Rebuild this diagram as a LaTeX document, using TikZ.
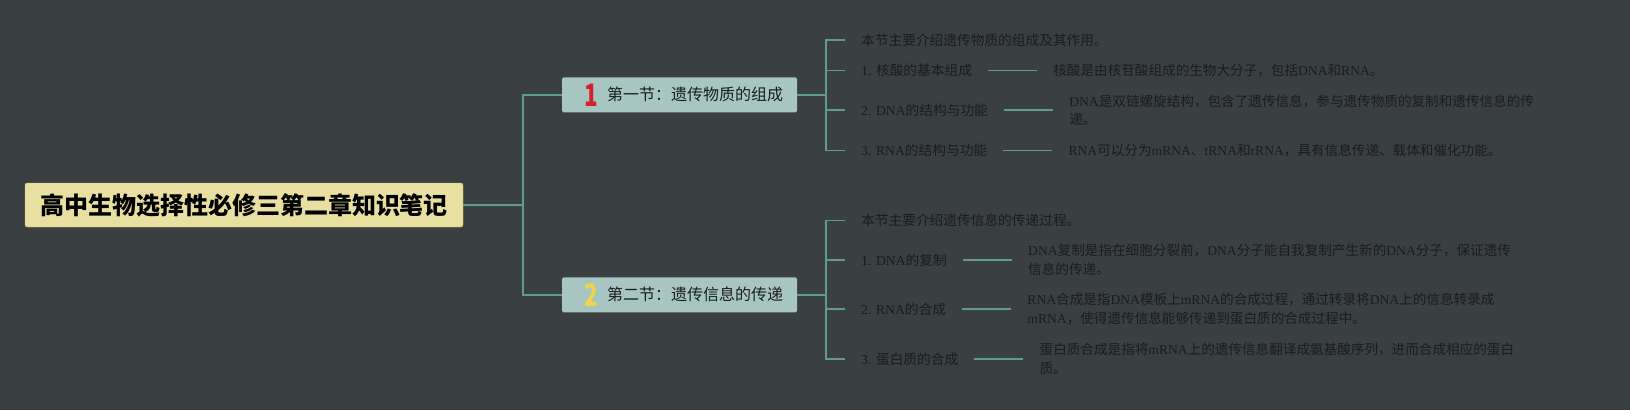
\documentclass[tikz,border=0pt]{standalone}
\usepackage{fontspec}
\usepackage{tikz}
\usepackage{xcolor}
\usetikzlibrary{positioning}
\setmainfont{Noto Sans CJK SC}
\newfontfamily\latinfont{Liberation Serif}
\newcommand{\en}[1]{{\latinfont #1}}
\newcommand{\numglyph}[1]{\scalebox{0.72}[1]{#1}}
\definecolor{bgcol}{HTML}{3A3F41}
\definecolor{rootfill}{HTML}{E8DFA0}
\definecolor{rootdraw}{HTML}{C4B676}
\definecolor{secfill}{HTML}{A8C6C1}
\definecolor{linecol}{HTML}{5E9C8C}
\definecolor{txtcol}{HTML}{1A1D1E}
\definecolor{numred}{HTML}{D4202E}
\definecolor{numyellow}{HTML}{F0D54A}

\begin{document}
\begin{tikzpicture}[x=1pt, y=-1pt,
	rootbox/.style={draw=rootdraw, fill=rootfill, rounded corners=2pt, minimum width=438pt, minimum height=44pt, inner sep=0pt, font=\fontsize{24}{24}\selectfont\bfseries},
	secbox/.style={fill=secfill, rounded corners=1.5pt, minimum height=35pt, text width=207pt, inner xsep=14pt, inner ysep=0pt, align=flush right, text=txtcol, font=\fontsize{16}{16}\selectfont},
	marker/.style={inner sep=0pt, font=\fontsize{31}{31}\selectfont\bfseries},
	topic/.style={anchor=west, inner sep=0pt, text=txtcol, font=\fontsize{13.7}{18.5}\selectfont},
	leaf/.style={inner sep=0pt, align=left, text=txtcol, font=\fontsize{13.6}{18.5}\selectfont},
	conn/.style={draw=linecol, line width=1.6pt},
	twig/.style={conn, shorten <=16pt, shorten >=16pt}]
				\fill[bgcol] (0,0) rectangle (1630,410);
				\useasboundingbox (0,0) rectangle (1630,410);
				\node[rootbox] (root) at (244,205) {高中生物选择性必修三第二章知识笔记};
				\node[secbox] (s1) at (679.5,94.8) {第一节：遗传物质的组成};
				\node[secbox] (s2) at (679.5,294.8) {第二节：遗传信息的传递};
				\node[marker, text=numred] (m1) at (591,94.8) {\numglyph{1}};
				\node[marker, text=numyellow] (m2) at (591,294.8) {\numglyph{2}};
				\coordinate (j0) at (523,205);
				\draw[conn] (root.east) -- (j0);
				\draw[conn] (j0) |- (s1.west);
				\draw[conn] (j0) |- (s2.west);
				\node[topic] (c10) at (861,40) {本节主要介绍遗传物质的组成及其作用。};
				\node[topic] (c11) at (861,70.5) {\en{1. }核酸的基本组成};
				\node[topic] (c12) at (861,110) {\en{2. DNA}的结构与功能};
				\node[topic] (c13) at (861,150.5) {\en{3. RNA}的结构与功能};
				\coordinate (j1) at (826,94.8);
				\draw[conn] (s1.east) -- (j1);
				\draw[conn, shorten >=16pt] (j1) |- (c10.west);
				\draw[conn, shorten >=16pt] (j1) |- (c11.west);
				\draw[conn, shorten >=16pt] (j1) |- (c12.west);
				\draw[conn, shorten >=16pt] (j1) |- (c13.west);
				\node[leaf, right=81pt of c11] (l11) {核酸是由核苷酸组成的生物大分子，包括\en{DNA}和\en{RNA}。};
				\node[leaf, right=81pt of c12] (l12) {\en{DNA}是双链螺旋结构，包含了遗传信息，参与遗传物质的复制和遗传信息的传\\递。};
				\node[leaf, right=81pt of c13] (l13) {\en{RNA}可以分为\en{mRNA}、\en{tRNA}和\en{rRNA}，具有信息传递、载体和催化功能。};
				\draw[twig] (c11.east) -- (l11.west);
				\draw[twig] (c12.east) -- (l12.west);
				\draw[twig] (c13.east) -- (l13.west);
				\node[topic] (c20) at (861,220.5) {本节主要介绍遗传信息的传递过程。};
				\node[topic] (c21) at (861,260) {\en{1. DNA}的复制};
				\node[topic] (c22) at (861,309) {\en{2. RNA}的合成};
				\node[topic] (c23) at (861,359) {\en{3. }蛋白质的合成};
				\coordinate (j2) at (826,294.8);
				\draw[conn] (s2.east) -- (j2);
				\draw[conn, shorten >=16pt] (j2) |- (c20.west);
				\draw[conn, shorten >=16pt] (j2) |- (c21.west);
				\draw[conn, shorten >=16pt] (j2) |- (c22.west);
				\draw[conn, shorten >=16pt] (j2) |- (c23.west);
				\node[leaf, right=81pt of c21] (l21) {\en{DNA}复制是指在细胞分裂前，\en{DNA}分子能自我复制产生新的\en{DNA}分子，保证遗传\\信息的传递。};
				\node[leaf, right=81pt of c22] (l22) {\en{RNA}合成是指\en{DNA}模板上\en{mRNA}的合成过程，通过转录将\en{DNA}上的信息转录成\\\en{mRNA}，使得遗传信息能够传递到蛋白质的合成过程中。};
				\node[leaf, right=81pt of c23] (l23) {蛋白质合成是指将\en{mRNA}上的遗传信息翻译成氨基酸序列，进而合成相应的蛋白\\质。};
				\draw[twig] (c21.east) -- (l21.west);
				\draw[twig] (c22.east) -- (l22.west);
				\draw[twig] (c23.east) -- (l23.west);
			\end{tikzpicture}
\end{document}
